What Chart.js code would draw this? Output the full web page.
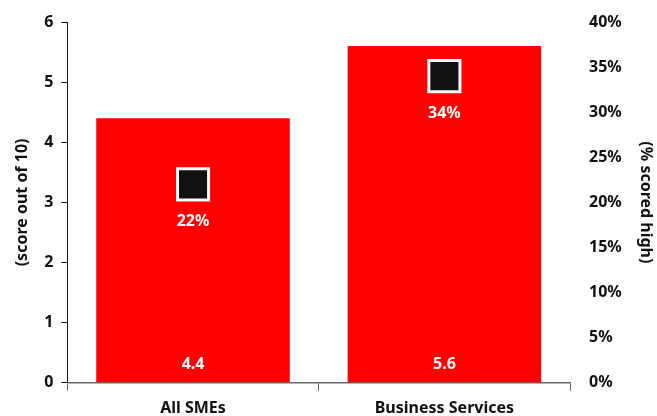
<!DOCTYPE html>
<html>
<head>
<meta charset="utf-8">
<script src="https://cdn.jsdelivr.net/npm/chart.js@4.4.1/dist/chart.umd.min.js"></script>
<style>
  html, body { margin: 0; padding: 0; background: #fff; }
  #wrap { width: 657px; height: 416px; }
</style>
</head>
<body>
<div id="wrap"><canvas id="c"></canvas></div>
<script>
const categories = ['All SMEs', 'Business Services'];
const scores = [4.4, 5.6];          // average score out of 10
const scoredHigh = [22, 34];        // % scoring high

const FONT = '"Noto Sans", Roboto, sans-serif';

// draws the value labels: score at bar foot, percentage under each square
const valueLabels = {
  id: 'valueLabels',
  afterDatasetsDraw(chart) {
    const ctx = chart.ctx;
    ctx.save();
    ctx.fillStyle = '#ffffff';
    ctx.font = 'bold 16px ' + FONT;
    ctx.textAlign = 'center';
    ctx.textBaseline = 'middle';
    const bars = chart.getDatasetMeta(1).data;
    const yScale = chart.scales.y;
    bars.forEach((bar, i) => {
      ctx.fillText(scores[i].toFixed(1), bar.x, yScale.bottom - 18);
    });
    const pts = chart.getDatasetMeta(0).data;
    pts.forEach((p, i) => {
      ctx.fillText(scoredHigh[i] + '%', p.x, p.y + 37);
    });
    ctx.restore();
  }
};

new Chart(document.getElementById('c'), {
  data: {
    labels: categories,
    datasets: [
      {
        type: 'line',
        data: scoredHigh,
        yAxisID: 'y2',
        showLine: false,
        pointStyle: 'rect',
        pointRadius: 22,
        pointHoverRadius: 22,
        pointBackgroundColor: '#111111',
        pointBorderColor: '#ffffff',
        pointBorderWidth: 3,
        order: 0
      },
      {
        type: 'bar',
        data: scores,
        yAxisID: 'y',
        backgroundColor: '#ff0000',
        borderWidth: 0,
        barPercentage: 0.77,
        categoryPercentage: 1,
        order: 1
      }
    ]
  },
  options: {
    responsive: true,
    maintainAspectRatio: false,
    animation: false,
    layout: { autoPadding: false, padding: { top: 22, right: 0, left: 9, bottom: -10 } },
    plugins: { legend: { display: false }, tooltip: { enabled: false } },
    scales: {
      x: {
        offset: true,
        grid: { offset: true, drawOnChartArea: false, drawTicks: true, tickLength: 8, color: '#666' },
        border: { display: true, color: '#666', width: 1.5 },
        ticks: { color: '#111', font: { family: FONT, weight: 'bold', size: 16 }, padding: 8 }
      },
      y: {
        position: 'left',
        min: 0, max: 6,
        ticks: { stepSize: 1, color: '#111', font: { family: FONT, weight: 'bold', size: 16 }, padding: 8 },
        grid: { drawOnChartArea: false, drawTicks: true, tickLength: 6, color: '#111' },
        border: { display: true, color: '#111', width: 1 },
        title: { display: true, text: '(score out of 10)', color: '#111', font: { family: FONT, weight: 'bold', size: 16 }, padding: 4 }
      },
      y2: {
        position: 'right',
        min: 0, max: 40,
        ticks: { stepSize: 5, color: '#111', callback: v => v + '%', font: { family: FONT, weight: 'bold', size: 16 }, padding: 4 },
        grid: { display: true, drawOnChartArea: false, drawTicks: true, tickLength: 15, color: 'rgba(0,0,0,0)' },
        border: { display: false },
        title: { display: true, text: '(% scored high)', color: '#111', font: { family: FONT, weight: 'bold', size: 16 }, padding: { top: 2, bottom: 10 } }
      }
    }
  },
  plugins: [valueLabels]
});
</script>
</body>
</html>
